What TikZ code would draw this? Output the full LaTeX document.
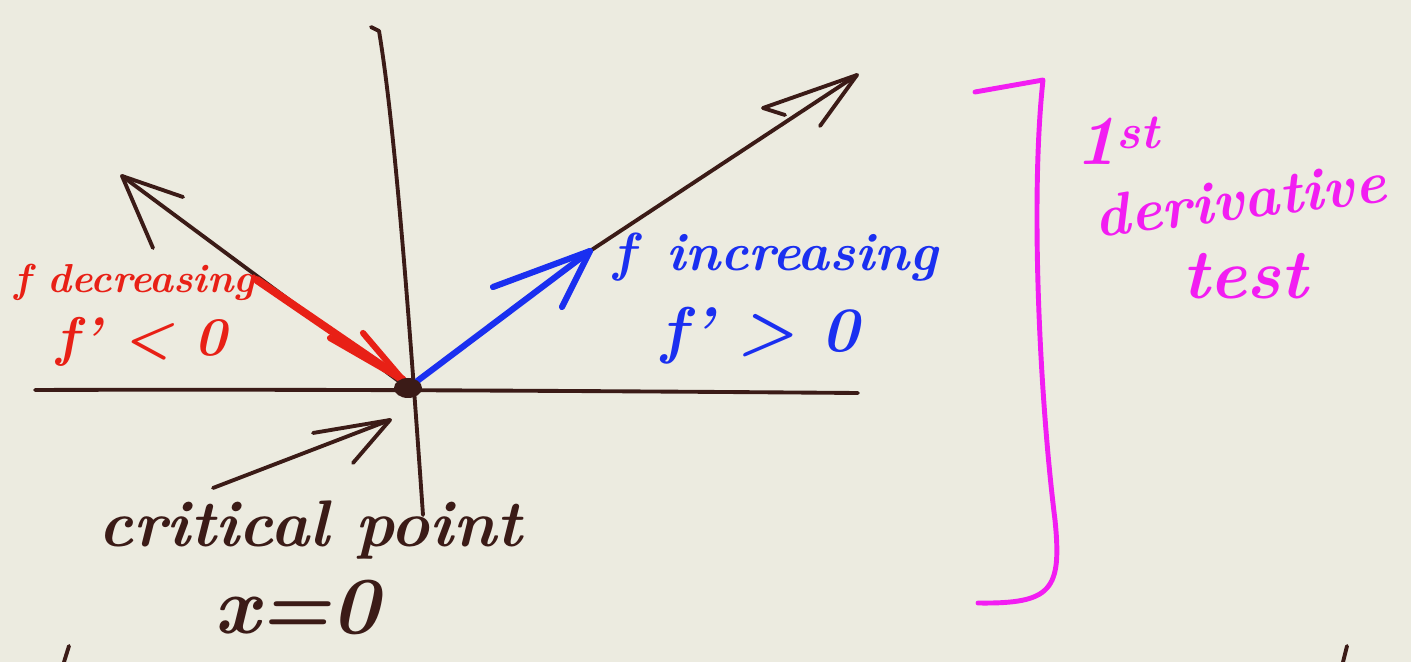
\documentclass[tikz,border=0pt]{standalone}
\usepackage{fontspec}
\definecolor{paper}{HTML}{ECEBE0}
\definecolor{ink}{HTML}{3B1B17}
\definecolor{penred}{HTML}{E82016}
\definecolor{penblue}{HTML}{1A2FF0}
\definecolor{penpink}{HTML}{F21DF2}
\usepackage{tikz}
\usetikzlibrary{calc, positioning}

\newcommand{\handsize}[1]{\fontsize{#1}{#1}\selectfont\bfseries\itshape}

\tikzset{
  stroke/.style={line width=2.2pt, line cap=round, line join=round},
  inkline/.style={stroke, draw=ink},
  hand/.style={inner sep=0pt, font=\handsize{30}},
}

\begin{document}
\begin{tikzpicture}[x=0.02cm, y=-0.02cm]
% paper
\fill[paper] (0,0) rectangle (1411,662);
\useasboundingbox (0,0) rectangle (1411,662);

% critical point and arrow ends
\coordinate (O) at (408,388);
\coordinate (tipL) at (122,176);
\coordinate (tipR) at (857,75);
\coordinate (tipB) at (590,251);
\coordinate (redS) at (257,280);
\coordinate (tipRed) at (403,380);
\coordinate (cpS) at (213,488);
\coordinate (tipCP) at (390,420);

% axes
\draw[inkline] (35,390) .. controls (300,389) and (600,391) .. (858,393);
\draw[inkline] (371,27) -- (379,31) .. controls (394,120) and (408,300) .. (423,515);

% brown arrows
\draw[inkline] (O) -- (tipL);
\draw[inkline] (183,197) -- (tipL) -- (153,248);
\draw[inkline] (O) -- (tipB) -- (tipR);
\draw[inkline] (785,115) -- (763,108) -- (tipR) -- (820,126);

% red arrow
\draw[stroke, draw=penred, line width=4.5pt] (redS) -- (tipRed);
\draw[stroke, draw=penred, line width=3.5pt] (330,338) -- (tipRed) -- (363,333);

% blue arrow
\draw[stroke, draw=penblue, line width=3.5pt] (O) -- (tipB);
\draw[stroke, draw=penblue, line width=3.5pt] (493,287) -- (tipB) -- (562,307);

% dot at the critical point
\fill[ink] (O) ellipse (14 and 10);

% arrow to the critical point
\draw[inkline] (cpS) -- (tipCP);
\draw[inkline] (313,433) -- (tipCP) -- (353,463);

% labels
\node[hand, text=penred, font=\handsize{23}] (dec) at (135,282) {f decreasing};
\node[hand, text=penred, font=\handsize{31}] (decd) at (142,342) {f’ < 0};
\node[hand, text=penblue, font=\handsize{30.5}] (inc) at (776,257) {f \,increasing};
\node[hand, text=penblue, font=\handsize{36}] (incd) at (760,336) {f’ > 0};
\node[hand, text=ink, font=\handsize{37.5}] (cp) at (310,530) {critical point};
\node[hand, text=ink, font=\handsize{46}] (cpx) at (297,607) {x=0};

% bracket and note
\draw[stroke, draw=penpink, line width=2.8pt] (975,92) -- (1043,80)
  .. controls (1030,200) and (1040,400) .. (1055,520)
  .. controls (1062,590) and (1052,604) .. (978,603);
\node[hand, text=penpink, font=\handsize{40}] (first) at (1118,141) {1\textsuperscript{st}};
\node[hand, text=penpink, font=\handsize{34}, rotate=7] (deriv) at (1240,199) {derivative};
\node[hand, text=penpink, font=\handsize{40}] (test) at (1245,276) {test};

% strokes cut off at the bottom edge
\draw[inkline] (69,646) -- (64,662);
\draw[inkline] (1347,646) -- (1343,662);
\end{tikzpicture}
\end{document}
